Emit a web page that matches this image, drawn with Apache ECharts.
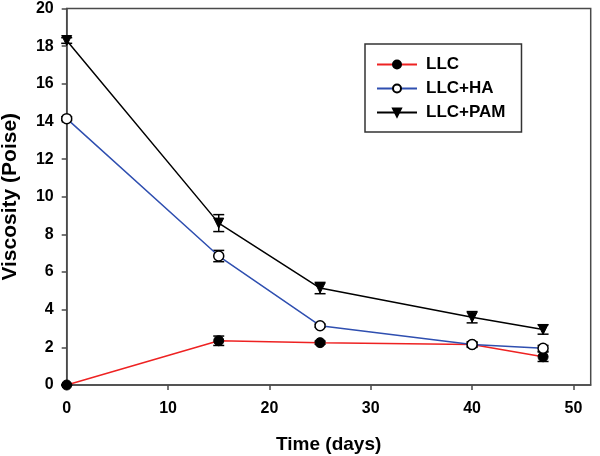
<!DOCTYPE html>
<html>
<head>
<meta charset="utf-8">
<script src="https://cdn.jsdelivr.net/npm/echarts@6/dist/echarts.min.js"></script>
<style>html,body{margin:0;padding:0;background:#fff}#c{width:600px;height:456px}</style>
</head>
<body>
<div id="c"></div>
<script>
var days = [0, 15, 25, 40, 47];
var llc = [0, 2.35, 2.25, 2.15, 1.5];
var llcErr = [0, 0.25, 0.08, 0.1, 0.25];
var llcHa = [14.15, 6.85, 3.15, 2.15, 1.95];
var llcHaErr = [0.1, 0.3, 0.08, 0.15, 0.15];
var llcPam = [18.3, 8.6, 5.15, 3.6, 2.95];
var llcPamErr = [0.15, 0.45, 0.3, 0.3, 0.25];
var seriesNames = ['LLC', 'LLC+HA', 'LLC+PAM'];
var xTicks = [0, 10, 20, 30, 40, 50];
var yTicks = [0, 2, 4, 6, 8, 10, 12, 14, 16, 18, 20];

function pairs(v) { return days.map(function (d, i) { return [d, v[i]]; }); }
function errData(v, e) { return days.map(function (d, i) { return [d, v[i] - e[i], v[i] + e[i]]; }); }

function errSeries(v, e) {
  return {
    type: 'custom',
    data: errData(v, e),
    z: 1,
    silent: true,
    encode: { x: 0, y: [1, 2] },
    renderItem: function (params, api) {
      var lo = api.coord([api.value(0), api.value(1)]);
      var hi = api.coord([api.value(0), api.value(2)]);
      var w = 5.5;
      var st = { stroke: '#000', lineWidth: 1.5 };
      return {
        type: 'group',
        children: [
          { type: 'line', shape: { x1: lo[0], y1: lo[1], x2: hi[0], y2: hi[1] }, style: st },
          { type: 'line', shape: { x1: lo[0] - w, y1: lo[1], x2: lo[0] + w, y2: lo[1] }, style: st },
          { type: 'line', shape: { x1: hi[0] - w, y1: hi[1], x2: hi[0] + w, y2: hi[1] }, style: st }
        ]
      };
    }
  };
}

var font = 'Liberation Sans, Arial, sans-serif';
var axisCol = '#4a4a4a';
var chart = echarts.init(document.getElementById('c'), null, { renderer: 'canvas' });
chart.setOption({
  animation: false,
  backgroundColor: '#fff',
  grid: { left: 66.7, right: 9.3, top: 8.5, bottom: 71, outerBoundsMode: 'none', containLabel: false,
    show: true, borderColor: axisCol, borderWidth: 1.5 },
  legend: {
    data: seriesNames,
    orient: 'vertical',
    left: 365, top: 44,
    padding: [12, 16, 11, 11],
    itemWidth: 40, itemHeight: 10, itemGap: 7,
    borderColor: '#333', borderWidth: 1.5,
    textStyle: { fontFamily: font, fontWeight: 'bold', fontSize: 17, color: '#000', padding: [0, 0, 0, 4] }
  },
  xAxis: {
    type: 'value', min: 0, max: 51.7, interval: 10,
    name: 'Time (days)', nameLocation: 'middle', nameGap: 50,
    nameTextStyle: { fontFamily: font, fontWeight: 'bold', fontSize: 19, color: '#000' },
    axisLine: { lineStyle: { color: axisCol, width: 1.5 } },
    axisTick: { inside: false, length: 5, lineStyle: { color: axisCol, width: 1.5 } },
    axisLabel: { showMaxLabel: false, margin: 16, fontFamily: font, fontWeight: 'bold', fontSize: 16, color: '#000',
      formatter: function (v) { return xTicks.indexOf(v) >= 0 ? String(v) : ''; } },
    splitLine: { show: false }
  },
  yAxis: {
    type: 'value', min: 0, max: 20, interval: 2,
    name: 'Viscosity (Poise)', nameLocation: 'middle', nameGap: 46, nameRotate: 90,
    nameTextStyle: { fontFamily: font, fontWeight: 'bold', fontSize: 21, color: '#000' },
    axisLine: { lineStyle: { color: axisCol, width: 1.5 } },
    axisTick: { inside: false, length: 5, lineStyle: { color: axisCol, width: 1.5 } },
    axisLabel: { margin: 13, fontFamily: font, fontWeight: 'bold', fontSize: 16, color: '#000',
      formatter: function (v) { return yTicks.indexOf(v) >= 0 ? String(v) : ''; } },
    splitLine: { show: false }
  },
  series: [
    errSeries(llc, llcErr),
    errSeries(llcHa, llcHaErr),
    errSeries(llcPam, llcPamErr),
    {
      name: seriesNames[0], type: 'line', data: pairs(llc), z: 3,
      symbol: 'circle', symbolSize: 10,
      lineStyle: { color: '#ee2222', width: 1.5 },
      itemStyle: { color: '#000', borderColor: '#000', borderWidth: 1 }
    },
    {
      name: seriesNames[1], type: 'line', data: pairs(llcHa), z: 3,
      symbol: 'circle', symbolSize: 10,
      lineStyle: { color: '#2f4fb0', width: 1.5 },
      itemStyle: { color: '#fff', borderColor: '#000', borderWidth: 1.5 }
    },
    {
      name: seriesNames[2], type: 'line', data: pairs(llcPam), z: 3,
      symbol: 'triangle', symbolRotate: 180, symbolSize: 10,
      lineStyle: { color: '#000', width: 1.5 },
      itemStyle: { color: '#000', borderColor: '#000', borderWidth: 1 }
    }
  ]
});
</script>
</body>
</html>
